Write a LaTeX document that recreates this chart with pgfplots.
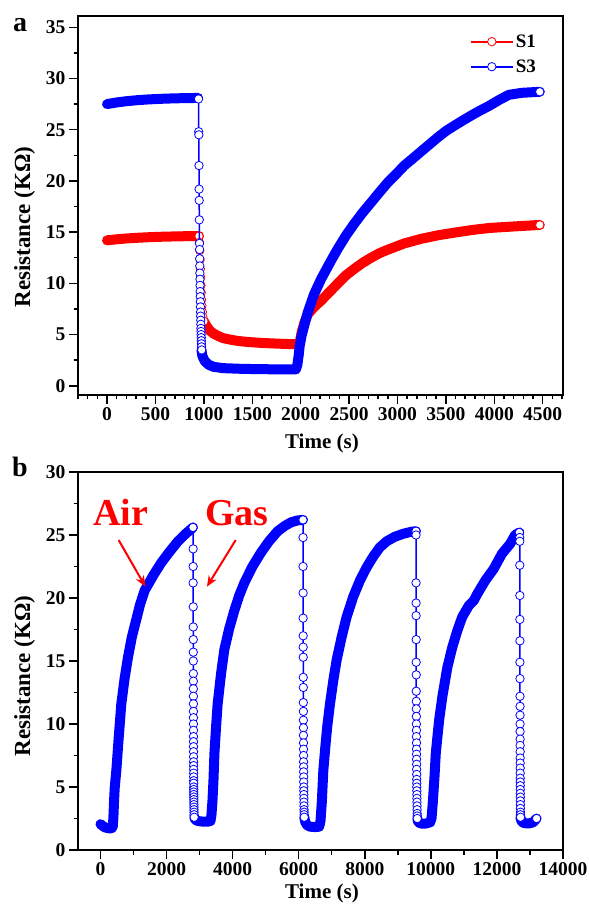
\documentclass[border=0pt]{standalone}
\usepackage{fontspec}
\setmainfont{Liberation Serif}
\usepackage{pgfplots}
\pgfplotsset{compat=1.18}
\usetikzlibrary{arrows.meta}

\pgfplotsset{
  myaxis/.style={
    scale only axis, width=485pt,
    axis line style={line width=2pt},
    tick align=outside, tick pos=left,
    major tick length=9pt, minor tick length=4.5pt,
    every tick/.append style={line width=1.5pt, black},
    /pgf/number format/assume math mode=true,
    /pgf/number format/set thousands separator={},
    scaled ticks=false,
    tick label style={font=\bfseries\fontsize{19.5}{19.5}\selectfont},
    xlabel style={font=\bfseries\fontsize{21}{21}\selectfont},
    ylabel style={font=\bfseries\fontsize{23}{23}\selectfont},
    clip mode=individual,
  },
  bandR/.style={red, line width=10pt, line cap=round, line join=round, no markers, forget plot},
  bandB/.style={blue, line width=10pt, line cap=round, line join=round, no markers, forget plot},
  mkR/.style={red, line width=1.5pt, mark=*, mark size=4.2pt, mark options={fill=white, draw=red, line width=0.8pt, solid}},
  mkB/.style={blue, line width=1.5pt, mark=*, mark size=4.2pt, mark options={fill=white, draw=blue, line width=0.8pt, solid}},
}

\begin{document}
\begin{tikzpicture}
\useasboundingbox (0,0) rectangle (589pt,913pt);

% ---------------- panel a ----------------
\begin{axis}[myaxis,
  at={(78pt,518pt)}, anchor=south west, height=379pt,
  xmin=-300, xmax=4710, ymin=-0.9, ymax=36.1,
  xtick={0,500,...,4500},
  minor xtick={-300,-200,...,4700},
  ytick={0,5,...,35},
  minor ytick={2.5,7.5,...,32.5},
  xlabel={Time (s)}, ylabel={Resistance (K\symbol{"03A9})},
  xlabel style={at={(axis description cs:0.503,-0.127)}, anchor=center},
  ylabel style={at={(axis description cs:-0.110,0.443)}, anchor=center},
  legend style={at={(rel axis cs:0.955,0.962)}, anchor=north east, draw=none, fill=none,
    font=\bfseries\fontsize{19}{19}\selectfont, row sep=7pt},
  legend cell align=left,
  legend image code/.code={\draw[mark repeat=2,mark phase=2,#1,line width=2.2pt] plot coordinates {(0pt,0pt) (21pt,0pt) (42pt,0pt)};},
]
% S1 red
\addplot[bandR] coordinates {(0,14.2)(100,14.3)(200,14.38)(300,14.44)(400,14.49)(500,14.53)(600,14.56)(700,14.58)(800,14.6)(900,14.62)(950,14.62)};
\addplot[bandR] coordinates {(1000,6.3)(1030,5.8)(1060,5.4)(1100,5.1)(1150,4.85)(1200,4.65)(1275,4.5)(1350,4.38)(1450,4.28)(1600,4.18)(1800,4.1)(1950,4.05)(1990,4.2)(2010,5.2)(2040,6.2)(2075,7.0)(2140,7.7)(2210,8.3)(2313,9.3)(2385,10.0)(2470,10.8)(2552,11.4)(2640,12.0)(2728,12.5)(2815,12.95)(2905,13.3)(3071,13.9)(3247,14.35)(3423,14.7)(3589,14.95)(3765,15.2)(3942,15.4)(4110,15.5)(4284,15.6)(4470,15.7)};
\addplot[mkR] coordinates {(950,14.6)(955,14.0)(958,13.2)(961,12.3)(964,11.4)(967,10.6)(970,9.8)(973,9.1)(976,8.4)(980,7.8)(985,7.2)(990,6.7)(1000,6.3)};
\addlegendentry{S1}
\addplot[mkR, forget plot] coordinates {(4470,15.7)};
% S3 blue
\addplot[bandB] coordinates {(0,27.5)(100,27.66)(200,27.78)(300,27.87)(400,27.94)(500,27.99)(600,28.03)(700,28.06)(800,28.08)(940,28.1)};
\addplot[bandB] coordinates {(975,3.5)(985,2.9)(1010,2.4)(1050,2.05)(1100,1.85)(1200,1.72)(1400,1.65)(1600,1.62)(1800,1.6)(1950,1.6)(1965,2.0)(1980,3.0)(1990,3.9)(2010,4.9)(2040,6.0)(2075,7.2)(2137,8.9)(2210,10.4)(2313,12.2)(2385,13.4)(2470,14.7)(2552,15.8)(2640,16.9)(2728,17.9)(2815,18.9)(2905,19.9)(2990,20.7)(3071,21.5)(3160,22.2)(3247,22.9)(3335,23.6)(3423,24.3)(3505,24.9)(3589,25.4)(3675,25.9)(3765,26.4)(3850,26.85)(3942,27.3)(4050,27.9)(4149,28.4)(4284,28.6)(4470,28.7)};
\addplot[mkB] coordinates {(945,28.0)(947,24.8)(948,24.5)(950,21.5)(951,19.2)(952,18.1)(953,16.2)(955,13.9)(956,13.3)(957,12.4)(958,11.7)(959,11.0)(960,10.4)(961,9.8)(962,9.2)(963,8.7)(964,8.2)(965,7.7)(966,7.2)(967,6.8)(968,6.4)(969,6.0)(970,5.6)(971,5.3)(972,5.0)(973,4.7)(974,4.4)(975,4.1)(976,3.8)(978,3.5)};
\addlegendentry{S3}
\addplot[mkB, forget plot] coordinates {(4470,28.7)};
\end{axis}

% ---------------- panel b ----------------
\begin{axis}[myaxis,
  at={(78pt,63pt)}, anchor=south west, height=378pt,
  xmin=-680, xmax=14000, ymin=0, ymax=30,
  xtick={0,2000,...,14000},
  minor xtick={1000,3000,...,13000},
  ytick={0,5,...,30},
  minor ytick={2.5,7.5,...,27.5},
  xlabel={Time (s)}, ylabel={Resistance (K\symbol{"03A9})},
  xlabel style={at={(axis description cs:0.503,-0.114)}, anchor=center},
  ylabel style={at={(axis description cs:-0.110,0.46)}, anchor=center},
]
% bands
\addplot[bandB] coordinates {(0,2.05)(50,1.95)(100,1.85)(150,1.78)(250,1.72)(330,1.72)(370,1.8)(390,2.5)(410,3.8)(430,4.9)(480,6.3)(540,8.5)(631,11.6)(730,13.6)(833,15.3)(950,16.9)(1085,18.3)(1200,19.5)(1338,20.6)(1600,21.8)(1841,22.8)(2100,23.7)(2347,24.5)(2580,25.1)(2800,25.6)};
\addplot[bandB] coordinates {(2840,2.6)(2870,2.4)(2950,2.3)(3100,2.25)(3250,2.25)(3330,2.3)(3360,2.8)(3390,3.9)(3420,5.5)(3450,7.7)(3500,9.8)(3547,11.6)(3650,14.0)(3749,15.9)(3900,17.6)(4052,19.0)(4200,20.2)(4354,21.2)(4600,22.5)(4858,23.6)(5100,24.5)(5363,25.3)(5566,25.7)(5766,26.0)(5950,26.15)(6130,26.2)};
\addplot[bandB] coordinates {(6170,2.6)(6200,2.2)(6260,1.95)(6350,1.85)(6500,1.82)(6620,1.85)(6660,2.3)(6700,3.8)(6745,6.3)(6800,8.0)(6860,9.7)(6947,11.6)(7050,13.5)(7150,15.1)(7300,16.9)(7452,18.5)(7650,20.1)(7855,21.4)(8050,22.4)(8258,23.3)(8450,24.0)(8663,24.5)(8900,24.85)(9166,25.1)(9400,25.25)(9550,25.3)};
\addplot[bandB] coordinates {(9590,2.5)(9620,2.2)(9700,2.1)(9850,2.1)(9980,2.2)(10020,2.5)(10060,3.8)(10110,5.8)(10150,7.7)(10250,10.3)(10350,12.2)(10500,14.5)(10650,16.1)(10800,17.4)(10950,18.5)(11150,19.4)(11300,19.8)(11400,20.3)(11650,21.4)(11900,22.3)(12150,23.5)(12400,24.3)(12550,25.0)(12680,25.2)};
\addplot[bandB] coordinates {(12710,2.6)(12740,2.3)(12800,2.15)(12950,2.1)(13100,2.2)(13200,2.5)};
% drops
\addplot[mkB, forget plot] coordinates {(2800,25.6)(2805,23.9)(2805,22.5)(2805,21.2)(2808,19.3)(2808,17.7)(2810,16.7)(2810,15.7)(2810,15.0)(2812,14.0)(2812,13.4)(2812,12.8)(2814,12.2)(2814,11.6)(2814,11.0)(2815,10.5)(2815,10.0)(2816,9.5)(2816,9.0)(2817,8.6)(2817,8.2)(2818,7.8)(2818,7.4)(2819,7.0)(2819,6.7)(2820,6.4)(2820,6.1)(2821,5.8)(2821,5.5)(2822,5.3)(2822,5.0)(2823,4.8)(2823,4.6)(2824,4.4)(2825,4.2)(2826,4.0)(2827,3.8)(2828,3.6)(2829,3.4)(2830,3.2)(2832,3.0)(2834,2.8)(2837,2.6)};
\addplot[mkB, forget plot] coordinates {(6130,26.2)(6132,24.8)(6132,22.5)(6134,20.4)(6134,18.4)(6136,17.0)(6136,16.1)(6138,15.3)(6138,13.7)(6140,12.9)(6140,11.7)(6142,11.0)(6142,10.3)(6144,9.7)(6144,9.1)(6146,8.5)(6146,8.0)(6148,7.5)(6148,7.0)(6150,6.6)(6150,6.2)(6152,5.8)(6152,5.4)(6154,5.0)(6155,4.7)(6156,4.4)(6157,4.1)(6158,3.8)(6160,3.5)(6162,3.2)(6164,3.0)(6166,2.8)(6168,2.6)};
\addplot[mkB, forget plot] coordinates {(9550,25.3)(9552,25.0)(9552,21.2)(9554,19.6)(9554,18.6)(9556,16.7)(9556,14.9)(9558,13.9)(9558,12.6)(9560,11.8)(9560,11.2)(9562,10.6)(9562,10.0)(9564,9.5)(9564,9.0)(9566,8.5)(9566,8.0)(9568,7.6)(9568,7.2)(9570,6.8)(9570,6.4)(9572,6.0)(9572,5.6)(9574,5.3)(9574,5.0)(9576,4.7)(9577,4.4)(9578,4.1)(9580,3.8)(9582,3.5)(9584,3.2)(9586,2.9)(9588,2.7)(9590,2.5)};
\addplot[mkB, forget plot] coordinates {(12680,25.2)(12690,24.8)(12692,24.5)(12692,22.6)(12694,20.2)(12694,18.3)(12696,16.6)(12696,14.9)(12698,13.6)(12698,12.2)(12700,11.4)(12700,10.7)(12701,10.0)(12701,9.4)(12702,8.8)(12702,8.3)(12703,7.8)(12703,7.3)(12704,6.9)(12704,6.5)(12705,6.1)(12705,5.7)(12706,5.4)(12706,5.1)(12707,4.8)(12707,4.5)(12708,4.2)(12709,3.9)(12710,3.6)(12711,3.3)(12712,3.0)(12713,2.8)(12714,2.6)};
\addplot[mkB, forget plot] coordinates {(13200,2.5)};
% annotations
\node[red, font=\bfseries\fontsize{38}{38}\selectfont] at (axis cs:610,26.8) {Air};
\node[red, font=\bfseries\fontsize{38}{38}\selectfont] at (axis cs:4123,26.7) {Gas};
\draw[red, line width=2pt, -{Stealth[length=11pt,width=9pt]}] (axis cs:550,24.6) -- (axis cs:1360,20.9);
\draw[red, line width=2pt, -{Stealth[length=11pt,width=9pt]}] (axis cs:4093,24.6) -- (axis cs:3222,20.9);
\end{axis}

\node[font=\bfseries\fontsize{28}{28}\selectfont] at (20pt,888pt) {a};
\node[font=\bfseries\fontsize{28}{28}\selectfont] at (20pt,446pt) {b};
\end{tikzpicture}
\end{document}
